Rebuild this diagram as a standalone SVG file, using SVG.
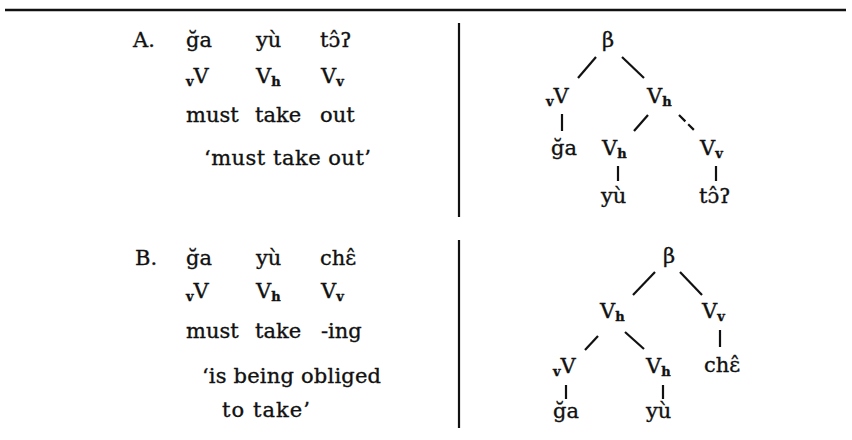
<svg xmlns="http://www.w3.org/2000/svg" width="852" height="440" viewBox="0 0 852 440">
<style>
  text { font-family: "DejaVu Serif", "Liberation Serif", serif; font-size: 21px; fill: #111; stroke: #111; stroke-width: 0.35; }
  .sub { font-size: 13px; font-weight: bold; }
  .edge { stroke: #111; stroke-width: 2.2; fill: none; stroke-linecap: butt; }
  .rule { stroke: #111; fill: none; }
</style>
<rect width="852" height="440" fill="#fff"/>
<line class="rule" x1="5" y1="10" x2="846" y2="10" stroke-width="2.5"/>
<line class="rule" x1="459" y1="23" x2="459" y2="217" stroke-width="2.2"/>
<line class="rule" x1="459" y1="240" x2="459" y2="428" stroke-width="2.2"/>

<g id="exampleA">
  <text x="133" y="47">A.</text>
  <text x="186" y="47">ğa</text>
  <text x="256" y="47">yù</text>
  <text x="320" y="47">tɔ̂ʔ</text>
  <text x="186" y="83"><tspan class="sub" dy="3">v</tspan><tspan dy="-3">V</tspan></text>
  <text x="256" y="83">V<tspan class="sub" dy="3">h</tspan></text>
  <text x="321" y="83">V<tspan class="sub" dy="3">v</tspan></text>
  <text x="186" y="122">must</text>
  <text x="255" y="122">take</text>
  <text x="320" y="122">out</text>
  <text x="204" y="165" textLength="167" lengthAdjust="spacing">‘must take out’</text>
</g>

<g id="exampleB">
  <text x="135" y="265">B.</text>
  <text x="186" y="265">ğa</text>
  <text x="256" y="265">yù</text>
  <text x="320" y="265">chɛ̂</text>
  <text x="186" y="298"><tspan class="sub" dy="3">v</tspan><tspan dy="-3">V</tspan></text>
  <text x="256" y="298">V<tspan class="sub" dy="3">h</tspan></text>
  <text x="321" y="298">V<tspan class="sub" dy="3">v</tspan></text>
  <text x="186" y="338">must</text>
  <text x="255" y="338">take</text>
  <text x="321" y="338">-ing</text>
  <text x="202" y="383" textLength="179" lengthAdjust="spacing">‘is being obliged</text>
  <text x="222" y="417" textLength="88" lengthAdjust="spacing">to take’</text>
</g>

<g id="connectors">
  <line class="edge" x1="596" y1="57" x2="578" y2="78"/>
  <line class="edge" x1="622" y1="57" x2="644" y2="78"/>
  <line class="edge" x1="562" y1="114" x2="562" y2="131"/>
  <line class="edge" x1="648" y1="115" x2="634" y2="131"/>
  <line class="edge" x1="679" y1="115" x2="695" y2="131" stroke-dasharray="9 4 8"/>
  <line class="edge" x1="618" y1="166" x2="618" y2="181"/>
  <line class="edge" x1="716" y1="166" x2="716" y2="181"/>

  <line class="edge" x1="655" y1="272" x2="633" y2="295"/>
  <line class="edge" x1="680" y1="272" x2="702" y2="295"/>
  <line class="edge" x1="598" y1="336" x2="585" y2="350"/>
  <line class="edge" x1="625" y1="332" x2="644" y2="349"/>
  <line class="edge" x1="720" y1="330" x2="720" y2="347"/>
  <line class="edge" x1="566" y1="385" x2="566" y2="399"/>
  <line class="edge" x1="663" y1="385" x2="663" y2="399"/>
</g>

<g id="treeA">
  <g id="A-beta"><text x="608" y="47" text-anchor="middle">β</text></g>
  <g id="A-vV"><text x="546" y="103"><tspan class="sub" dy="3">v</tspan><tspan dy="-3">V</tspan></text></g>
  <g id="A-Vh"><text x="647" y="103">V<tspan class="sub" dy="3">h</tspan></text></g>
  <g id="A-ga"><text x="551" y="155">ğa</text></g>
  <g id="A-Vh2"><text x="602" y="155">V<tspan class="sub" dy="3">h</tspan></text></g>
  <g id="A-Vv"><text x="700" y="155">V<tspan class="sub" dy="3">v</tspan></text></g>
  <g id="A-yu"><text x="601" y="203">yù</text></g>
  <g id="A-to"><text x="699" y="203">tɔ̂ʔ</text></g>
</g>

<g id="treeB">
  <g id="B-beta"><text x="669" y="263" text-anchor="middle">β</text></g>
  <g id="B-Vh"><text x="600" y="318">V<tspan class="sub" dy="3">h</tspan></text></g>
  <g id="B-Vv"><text x="702" y="318">V<tspan class="sub" dy="3">v</tspan></text></g>
  <g id="B-vV"><text x="553" y="373"><tspan class="sub" dy="3">v</tspan><tspan dy="-3">V</tspan></text></g>
  <g id="B-Vh2"><text x="646" y="373">V<tspan class="sub" dy="3">h</tspan></text></g>
  <g id="B-che"><text x="704" y="372">chɛ̂</text></g>
  <g id="B-ga"><text x="553" y="418">ğa</text></g>
  <g id="B-yu"><text x="646" y="418">yù</text></g>
</g>
</svg>
